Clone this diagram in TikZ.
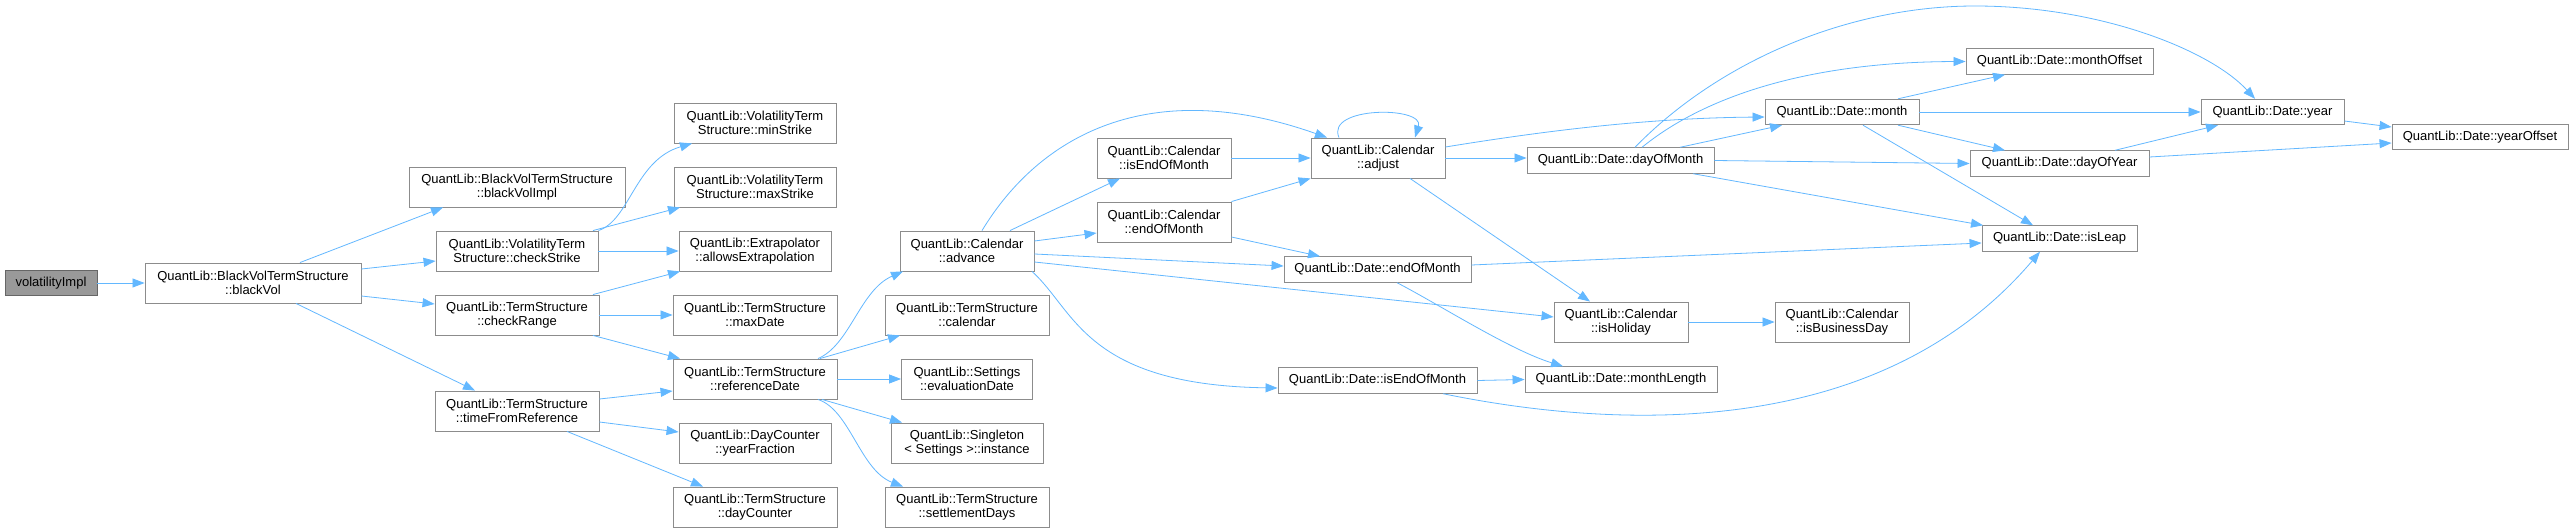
\documentclass[tikz,border=0pt]{standalone}
\usepackage{fontspec}
\setmainfont{Liberation Sans}
\usetikzlibrary{arrows.meta}

\definecolor{edgeblue}{HTML}{63B8FF}
\definecolor{boxline}{HTML}{8C8C8C}
\definecolor{rootfill}{HTML}{999999}
\definecolor{rootline}{HTML}{666666}

\begin{document}
\begin{tikzpicture}[
            x=1pt, y=-1pt,
            func/.style={
                    draw=boxline,
                    fill=white,
                    rectangle,
                    line width=0.9pt,
                    align=center,
                    inner sep=0pt,
                    font=\fontsize{13}{14.6}\selectfont,
                    minimum height=40pt
                },
            oneline/.style={
                    minimum height=25.5pt
                },
            root/.style={
                    fill=rootfill,
                    draw=rootline
                },
            call/.style={
                    -{Triangle[length=12pt,width=9pt]},
                    draw=edgeblue,
                    line width=0.8pt
                }
        ]

        \path[use as bounding box, fill=white] (0,0) rectangle (2573,532);

        % ---- first columns ----
        \node[func, oneline, root, minimum width=92pt] (vimpl) at (51,283) {volatilityImpl};
        \node[func, minimum width=216pt] (blackvol) at (253,283) {QuantLib::BlackVolTermStructure\\::blackVol};
        \node[func, minimum width=216pt] (blackvolimpl) at (517,187) {QuantLib::BlackVolTermStructure\\::blackVolImpl};
        \node[func, minimum width=162pt] (checkstrike) at (517,251) {QuantLib::VolatilityTerm\\Structure::checkStrike};
        \node[func, minimum width=164pt] (checkrange) at (517,315) {QuantLib::TermStructure\\::checkRange};
        \node[func, minimum width=164pt] (timefromref) at (517,411) {QuantLib::TermStructure\\::timeFromReference};

        \node[func, minimum width=162pt] (minstrike) at (755,123) {QuantLib::VolatilityTerm\\Structure::minStrike};
        \node[func, minimum width=162pt] (maxstrike) at (755,187) {QuantLib::VolatilityTerm\\Structure::maxStrike};
        \node[func, minimum width=152pt] (allowsextrap) at (755,251) {QuantLib::Extrapolator\\::allowsExtrapolation};
        \node[func, minimum width=164pt] (maxdate) at (755,315) {QuantLib::TermStructure\\::maxDate};
        \node[func, minimum width=164pt] (refdate) at (755,379) {QuantLib::TermStructure\\::referenceDate};
        \node[func, minimum width=152pt] (yearfrac) at (755,443) {QuantLib::DayCounter\\::yearFraction};
        \node[func, minimum width=164pt] (daycounter) at (755,507) {QuantLib::TermStructure\\::dayCounter};

        \node[func, minimum width=134pt] (advance) at (967,251) {QuantLib::Calendar\\::advance};
        \node[func, minimum width=164pt] (tscalendar) at (967,315) {QuantLib::TermStructure\\::calendar};
        \node[func, minimum width=131pt] (evaldate) at (967,379) {QuantLib::Settings\\::evaluationDate};
        \node[func, minimum width=152pt] (instance) at (967,443) {QuantLib::Singleton\\< Settings >::instance};
        \node[func, minimum width=164pt] (settledays) at (967,507) {QuantLib::TermStructure\\::settlementDays};

        % ---- calendar and date columns ----
        \node[func, minimum width=134pt] (calisend) at (1164,158) {QuantLib::Calendar\\::isEndOfMonth};
        \node[func, minimum width=134pt] (calendmonth) at (1164,222) {QuantLib::Calendar\\::endOfMonth};
        \node[func, minimum width=134pt] (adjust) at (1378,158) {QuantLib::Calendar\\::adjust};
        \node[func, oneline, minimum width=187pt] (dateendmonth) at (1377.5,269.5) {QuantLib::Date::endOfMonth};
        \node[func, oneline, minimum width=199pt] (dateisend) at (1377.5,380.5) {QuantLib::Date::isEndOfMonth};

        \node[func, oneline, minimum width=187pt] (dayofmonth) at (1620.5,160.5) {QuantLib::Date::dayOfMonth};
        \node[func, minimum width=134pt] (isholiday) at (1621,322) {QuantLib::Calendar\\::isHoliday};
        \node[func, oneline, minimum width=192pt] (monthlength) at (1621,379.5) {QuantLib::Date::monthLength};

        \node[func, oneline, minimum width=154pt] (month) at (1842,112) {QuantLib::Date::month};
        \node[func, minimum width=134pt] (isbusday) at (1842,322) {QuantLib::Calendar\\::isBusinessDay};

        \node[func, oneline, minimum width=187pt] (monthoffset) at (2059.5,61.5) {QuantLib::Date::monthOffset};
        \node[func, oneline, minimum width=179pt] (dayofyear) at (2059.5,163.5) {QuantLib::Date::dayOfYear};
        \node[func, oneline, minimum width=155pt] (isleap) at (2059.5,238.5) {QuantLib::Date::isLeap};

        \node[func, oneline, minimum width=143pt] (year) at (2272.5,112) {QuantLib::Date::year};
        \node[func, oneline, minimum width=176pt] (yearoffset) at (2480,137) {QuantLib::Date::yearOffset};

        % ---- calls ----
        \draw[call] (vimpl.east) -- (blackvol.west);
        \draw[call] ([xshift=47pt]blackvol.north) -- ([xshift=-74pt]blackvolimpl.south);
        \draw[call] ([yshift=14pt]blackvol.east) -- ([yshift=-10pt]checkstrike.west);
        \draw[call] ([yshift=-13pt]blackvol.east) -- ([yshift=11pt]checkrange.west);
        \draw[call] ([xshift=43pt]blackvol.south) -- ([xshift=-42pt]timefromref.north);

        \draw[call] (checkstrike.north east) .. controls (630,220) and (635,160) .. ([xshift=-63pt]minstrike.south);
        \draw[call] ([xshift=76pt]checkstrike.north) -- ([xshift=-75pt]maxstrike.south);
        \draw[call] (checkstrike.east) -- (allowsextrap.west);
        \draw[call] ([xshift=76pt]checkrange.north) -- ([xshift=-75pt]allowsextrap.south);
        \draw[call] (checkrange.east) -- (maxdate.west);
        \draw[call] ([xshift=76pt]checkrange.south) -- ([xshift=-75pt]refdate.north);
        \draw[call] ([yshift=12pt]timefromref.east) -- ([yshift=-12pt]refdate.west);
        \draw[call] ([yshift=-11pt]timefromref.east) -- ([yshift=11pt]yearfrac.west);
        \draw[call] ([xshift=50pt]timefromref.south) -- ([xshift=-52pt]daycounter.north);

        \draw[call] ([xshift=63pt]refdate.north) .. controls (850,345) and (860,290) .. ([xshift=-64pt]advance.south);
        \draw[call] ([xshift=65pt]refdate.north) -- ([xshift=-67pt]tscalendar.south);
        \draw[call] (refdate.east) -- (evaldate.west);
        \draw[call] ([xshift=67pt]refdate.south) -- ([xshift=-65pt]instance.north);
        \draw[call] ([xshift=63pt]refdate.south) .. controls (850,410) and (860,470) .. ([xshift=-64pt]settledays.north);

        \draw[call] ([xshift=15pt]advance.north) .. controls (1040,135) and (1150,75) .. ([xshift=-51pt]adjust.north);
        \draw[call] ([xshift=43pt]advance.north) -- ([xshift=-44pt]calisend.south);
        \draw[call] ([yshift=10pt]advance.east) -- ([yshift=-11pt]calendmonth.west);
        \draw[call] ([yshift=-3pt]advance.east) -- ([yshift=3.5pt]dateendmonth.west);
        \draw[call] ([yshift=-11pt]advance.east) -- ([yshift=5pt]isholiday.west);
        \draw[call] ([xshift=65pt]advance.south) .. controls (1075,310) and (1085,385) .. ([yshift=-7.5pt]dateisend.west);

        \draw[call] (calisend.east) -- (adjust.west);
        \draw[call] (calendmonth.north east) -- (adjust.south west);
        \draw[call] ([yshift=-15pt]calendmonth.east) -- ([xshift=-57.5pt]dateendmonth.north);

        \draw[call] ([xshift=-39pt]adjust.north) .. controls (1325,106) and (1425,106) .. ([xshift=37pt]adjust.north);
        \draw[call] ([yshift=11pt]adjust.east) .. controls (1550,130) and (1650,118) .. ([yshift=-5pt]month.west);
        \draw[call] (adjust.east) -- (adjust.east -| dayofmonth.west);
        \draw[call] ([xshift=32pt]adjust.south) -- ([xshift=-31pt]isholiday.north);

        \draw[call] ([xshift=14.5pt]dayofmonth.north) .. controls (1720,60) and (1850,6) .. (1975,6)
            .. controls (2100,6) and (2210,50) .. ([xshift=-17.5pt]year.north);
        \draw[call] ([xshift=21.5pt]dayofmonth.north) .. controls (1700,100) and (1800,62) .. (monthoffset.west);
        \draw[call] ([xshift=59.5pt]dayofmonth.north) -- ([xshift=-60pt]month.south);
        \draw[call] (dayofmonth.east) -- (dayofyear.west);
        \draw[call] ([xshift=72.5pt]dayofmonth.south) -- ([xshift=-76.5pt]isleap.north);

        \draw[call] ([yshift=4.5pt]dateendmonth.east) -- ([yshift=-4.5pt]isleap.west);
        \draw[call] ([xshift=19.5pt]dateendmonth.south) .. controls (1440,305) and (1510,350) .. ([xshift=-58pt]monthlength.north);
        \draw[call] (isholiday.east) -- (isbusday.west);
        \draw[call] (dateisend.east) -- (monthlength.west);
        \draw[call] ([xshift=65.5pt]dateisend.south) .. controls (1620,430) and (1880,440) .. ([xshift=-19.5pt]isleap.south);

        \draw[call] ([xshift=56pt]month.north) -- ([xshift=-54.5pt]monthoffset.south);
        \draw[call] (month.east) -- (year.west);
        \draw[call] ([xshift=56pt]month.south) -- ([xshift=-54.5pt]dayofyear.north);
        \draw[call] ([xshift=21pt]month.south) -- ([xshift=-26.5pt]isleap.north);
        \draw[call] ([xshift=55.5pt]dayofyear.north) -- ([xshift=-54.5pt]year.south);
        \draw[call] ([yshift=6.5pt]dayofyear.east) -- ([yshift=-6pt]yearoffset.west);
        \draw[call] ([yshift=-9pt]year.east) -- ([yshift=10pt]yearoffset.west);

    \end{tikzpicture}
\end{document}
